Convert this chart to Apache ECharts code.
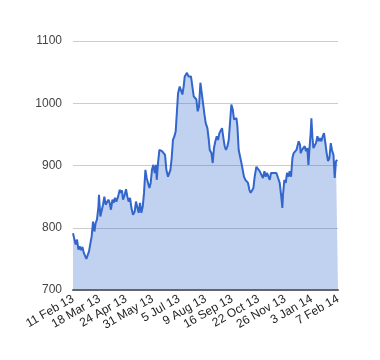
<!DOCTYPE html>
<html>
<head>
<meta charset="utf-8">
<script src="https://cdn.jsdelivr.net/npm/echarts@6/dist/echarts.min.js"></script>
<style>html,body{margin:0;padding:0;background:#fff}#c{width:380px;height:360px}</style>
</head>
<body>
<div id="c"></div>
<script>
// x positions are trading-day indices (0..250)
var tickLabels = ["11 Feb 13","18 Mar 13","24 Apr 13","31 May 13","5 Jul 13","9 Aug 13","16 Sep 13","22 Oct 13","26 Nov 13","3 Jan 14","7 Feb 14"];
var dayIndex = [0,2.5,3.8,5.1,6.3,7.5,8.9,10.1,11.3,12.6,13.9,15.1,16.4,17.6,18.9,20.2,21.4,22.6,24.0,24.5,25.8,27.1,28.3,29.6,30.8,32.1,33.4,34.6,35.8,37.2,38.4,39.6,40.9,42.5,44.1,45.0,46.2,47.2,48.8,50.0,51.3,52.5,53.8,55.1,56.6,58.2,59.4,60.8,62.0,63.2,64.5,65.8,67.0,68.3,69.5,70.8,72.1,73.3,74.5,75.8,77.1,78.3,79.0,80.2,81.5,82.7,84.0,85.3,86.8,88.1,89.6,90.6,91.9,93.1,94.3,95.7,96.9,98.1,99.1,100.7,101.9,103.2,104.4,105.4,106.3,107.5,108.9,110.1,111.3,112.6,113.9,115.1,116.4,117.6,118.9,120.2,121.4,122.6,124.0,125.2,126.8,128.1,129.0,130.6,131.8,133.0,134.3,135.6,136.8,138.1,139.3,140.6,141.9,143.1,144.3,145.7,146.9,148.1,149.4,150.7,151.9,153.2,154.2,155.1,156.3,157.5,158.9,160.1,161.3,162.6,163.9,165.1,166.4,167.6,168.9,170.2,171.4,173.0,174.5,176.1,177.7,179.2,180.6,181.8,183.0,184.3,185.6,186.8,188.1,189.3,190.6,191.9,193.4,195.0,196.6,197.5,198.1,199.4,200.7,201.9,203.2,204.4,205.7,207.0,208.2,209.4,210.8,211.7,212.9,214.2,214.8,216.0,217.4,218.6,219.8,221.1,222.1,223.0,224.2,224.9,225.8,226.8,228.0,229.2,230.6,231.8,233.0,234.3,235.6,236.8,238.1,239.3,240.6,241.9,243.2,244.3,245.7,246.9,248.1,249.4,250];
var prices = [791,773,781,765,770,764,769,760,757,750,753,762,775,786,810,794,808,813,834,853,818,816,837,850,837,834,845,840,829,845,840,848,842,850,861,856,860,845,853,862,850,842,848,832,821,826,842,832,824,840,824,834,856,893,880,872,864,872,893,901,888,901,877,904,925,928,923,925,917,893,882,880,893,912,941,947,955,957,1016,1027,1030,1014,1027,1043,1046,1049,1043,1046,1043,1043,1011,1008,1006,987,995,1033,1017,1001,982,968,960,941,925,920,904,928,939,947,941,952,952,960,944,931,925,931,941,968,998,990,974,971,976,963,925,923,904,893,882,877,880,872,861,856,858,864,882,898,901,891,888,880,891,882,888,885,877,888,885,888,891,888,891,872,848,832,853,877,872,888,882,891,882,912,920,917,925,923,939,933,920,925,923,931,923,928,901,925,952,976,947,928,925,936,947,939,944,939,947,952,936,920,907,912,936,925,917,880,907,909,909];
var yTicks = [700, 800, 900, 1000, 1100];

var data = dayIndex.map(function (d, i) { return [d, prices[i]]; });
var chart = echarts.init(document.getElementById('c'), null, {renderer: 'canvas'});
chart.setOption({
  animation: false,
  grid: {left: 73, right: 42, top: 41, bottom: 70},
  xAxis: {
    type: 'value', min: 0, max: 250, interval: 25,
    axisLine: {show: true, onZero: false, lineStyle: {color: '#666', width: 2}},
    axisTick: {show: false},
    splitLine: {show: false},
    axisLabel: {
      rotate: 30, margin: 8, color: '#222', fontSize: 12, fontFamily: 'Liberation Sans, Arial',
      formatter: function (v) { return tickLabels[Math.round(v / 25)] || ''; }
    }
  },
  yAxis: {
    type: 'value', min: yTicks[0], max: yTicks[yTicks.length - 1], interval: 100,
    axisLine: {show: false}, axisTick: {show: false},
    splitLine: {lineStyle: {color: '#cccccc', width: 1}},
    axisLabel: {color: '#444', fontSize: 12, fontFamily: 'Liberation Sans, Arial', margin: 11,
      formatter: function (v) { return String(v); }}
  },
  series: [{
    type: 'line', data: data, showSymbol: false, smooth: false,
    lineStyle: {color: '#3366cc', width: 2},
    areaStyle: {color: '#3366cc', opacity: 0.3, origin: 'start'}
  }]
});
</script>
</body>
</html>
